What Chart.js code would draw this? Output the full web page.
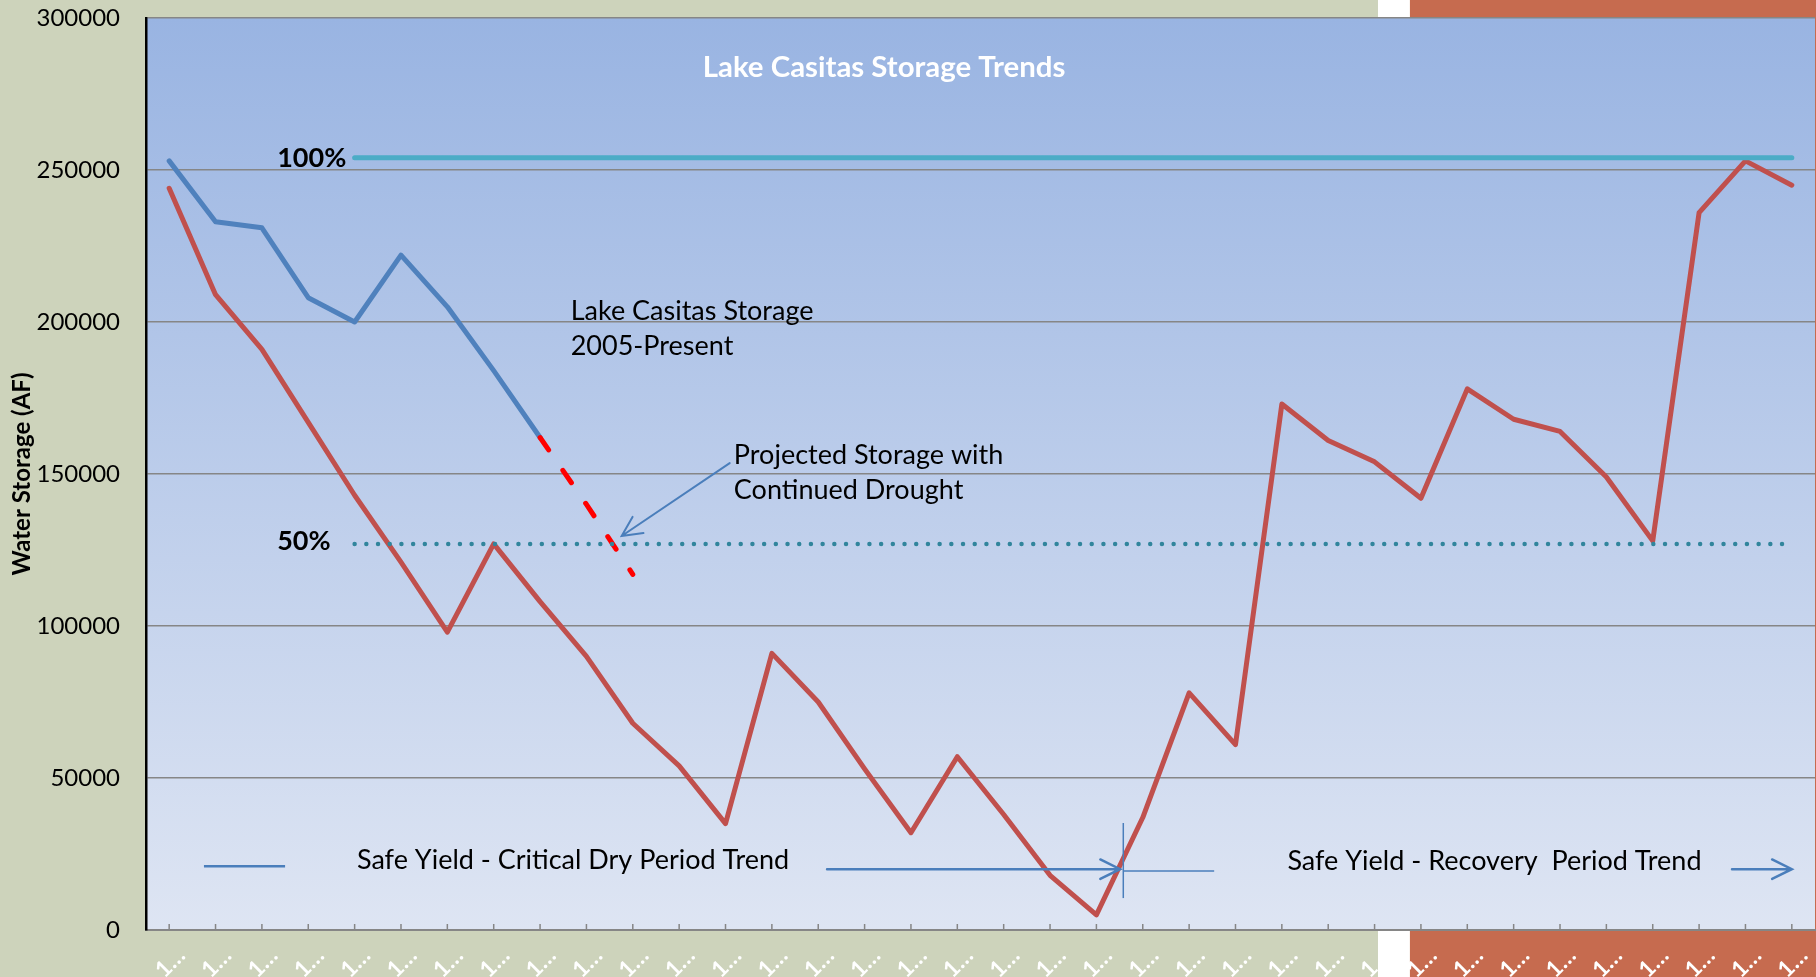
<!DOCTYPE html>
<html>
<head>
<meta charset="utf-8">
<script src="https://cdn.jsdelivr.net/npm/chart.js@4.4.0/dist/chart.umd.min.js"></script>
<style>
  html, body { margin: 0; padding: 0; background: #cdd3bb; }
  canvas { display: block; }
</style>
</head>
<body>
<canvas id="storage" width="1816" height="977"></canvas>
<script>
// category labels as shown (truncated by the original chart)
const categories = ['1…','1…','1…','1…','1…','1…','1…','1…','1…','1…','1…','1…',
                    '1…','1…','1…','1…','1…','1…','1…','1…','1…','1…','1…','1…',
                    '1…','1…','1…','1…','1…','1…','1…','1…','1…','1…','1…','1…'];

// historic storage, critical dry period + recovery (AF)
const historicStorage = [244000, 209000, 191000, 167000, 143000, 121000, 98000, 127000, 108000,
                         90000, 68000, 54000, 35000, 91000, 75000, 53000, 32000, 57000,
                         38000, 18000, 5000, 37000, 78000, 61000, 173000, 161000, 154000,
                         142000, 178000, 168000, 164000, 149000, 128000, 236000, 253000, 245000];

// Lake Casitas storage 2005-present
const storage2005 = [253000, 233000, 231000, 208000, 200000, 222000, 205000, 184000, 162000];

// projected storage with continued drought
const projected = [null, null, null, null, null, null, null, null, 162000, 140000, 117000];

// capacity reference lines
const full100 = [null, null, null, null, 254000, 254000, 254000, 254000, 254000, 254000, 254000, 254000,
                 254000, 254000, 254000, 254000, 254000, 254000, 254000, 254000, 254000, 254000, 254000, 254000,
                 254000, 254000, 254000, 254000, 254000, 254000, 254000, 254000, 254000, 254000, 254000, 254000];
const half50 = [null, null, null, null, 127000, 127000, 127000, 127000, 127000, 127000, 127000, 127000,
                127000, 127000, 127000, 127000, 127000, 127000, 127000, 127000, 127000, 127000, 127000, 127000,
                127000, 127000, 127000, 127000, 127000, 127000, 127000, 127000, 127000, 127000, 127000, 127000];

const yTicks = [0, 50000, 100000, 150000, 200000, 250000, 300000];

const FONT = 'Lato, "Open Sans", sans-serif';

function say(ctx, text, x, y, font, color, align, squeeze) {
  ctx.save();
  ctx.font = font;
  ctx.fillStyle = color || '#000';
  ctx.textBaseline = 'middle';
  ctx.textAlign = align || 'left';
  ctx.translate(x, y);
  ctx.scale(squeeze || 1, 1);
  ctx.fillText(text, 0, 0);
  ctx.restore();
}

function arrow(ctx, x1, y1, x2, y2, width) {
  const ang = Math.atan2(y2 - y1, x2 - x1);
  const len = 22, spread = 0.46;
  ctx.save();
  ctx.strokeStyle = '#4a7ebb';
  ctx.lineWidth = width;
  ctx.lineCap = 'round';
  ctx.beginPath();
  ctx.moveTo(x1, y1);
  ctx.lineTo(x2, y2);
  ctx.moveTo(x2 - len * Math.cos(ang - spread), y2 - len * Math.sin(ang - spread));
  ctx.lineTo(x2, y2);
  ctx.lineTo(x2 - len * Math.cos(ang + spread), y2 - len * Math.sin(ang + spread));
  ctx.stroke();
  ctx.restore();
}

function seg(ctx, x1, y1, x2, y2, width) {
  ctx.save();
  ctx.strokeStyle = '#4a7ebb';
  ctx.lineWidth = width;
  ctx.beginPath();
  ctx.moveTo(x1, y1);
  ctx.lineTo(x2, y2);
  ctx.stroke();
  ctx.restore();
}

const backdrop = {
  id: 'backdrop',
  beforeDraw(chart) {
    const { ctx, width, height, chartArea: a } = chart;
    ctx.save();
    ctx.fillStyle = '#cdd3bb';
    ctx.fillRect(0, 0, width, height);
    ctx.fillStyle = '#ffffff';
    ctx.fillRect(width * 0.7588, 0, width * 0.0176, height);
    ctx.fillStyle = '#c66b4f';
    ctx.fillRect(width * 0.7764, 0, width, height);
    const g = ctx.createLinearGradient(0, a.top, 0, a.bottom);
    g.addColorStop(0, '#99b4e2');
    g.addColorStop(1, '#dee5f3');
    ctx.fillStyle = g;
    ctx.fillRect(a.left, a.top, a.right - a.left, a.bottom - a.top);
    ctx.restore();
  }
};

const notes = {
  id: 'notes',
  afterDatasetsDraw(chart) {
    const { ctx, chartArea: a } = chart;
    const x = chart.scales.x, y = chart.scales.y;
    const px = v => x.getPixelForValue(v);
    const py = v => y.getPixelForValue(v);

    // inside tick marks on the category axis
    ctx.save();
    ctx.strokeStyle = '#868686';
    ctx.lineWidth = 1.5;
    ctx.beginPath();
    x.ticks.forEach((t, i) => {
      const tx = x.getPixelForTick(i);
      ctx.moveTo(tx, a.bottom);
      ctx.lineTo(tx, a.bottom - 6);
    });
    ctx.stroke();
    ctx.restore();

    say(ctx, 'Lake Casitas Storage Trends', px(15.42), py(283500), 'bold 28px ' + FONT, '#ffffff', 'center', 1.05);
    say(ctx, '100%', px(2.33), py(254000), 'bold 27px ' + FONT, '#000', 'left');
    say(ctx, '50%', px(2.33), py(128000), 'bold 27px ' + FONT, '#000', 'left');

    say(ctx, 'Lake Casitas Storage', px(8.66), py(203600), '27px ' + FONT);
    say(ctx, '2005-Present', px(8.66), py(192100), '27px ' + FONT);
    say(ctx, 'Projected Storage with', px(12.18), py(156250), '27px ' + FONT);
    say(ctx, 'Continued Drought', px(12.18), py(144700), '27px ' + FONT);
    arrow(ctx, px(12.09), py(153600), px(9.76), py(129600), 2);

    seg(ctx, px(0.75), py(21000), px(2.50), py(21000), 2.5);
    say(ctx, 'Safe Yield - Critical Dry Period Trend', px(4.05), py(23000), '27px ' + FONT);
    arrow(ctx, px(14.19), py(20000), px(20.51), py(20000), 2.5);
    seg(ctx, px(20.58), py(35200), px(20.58), py(10500), 1.5);
    seg(ctx, px(20.58), py(19400), px(22.54), py(19400), 1.5);
    say(ctx, 'Safe Yield - Recovery  Period Trend', px(24.12), py(22700), '27px ' + FONT);
    arrow(ctx, px(33.71), py(20000), px(35.0), py(20000), 2.5);
  }
};

const line = (data, color, width, order, extra) => Object.assign({
  data, borderColor: color, borderWidth: width, order,
  pointRadius: 0, tension: 0, fill: false,
  borderCapStyle: 'round', borderJoinStyle: 'round'
}, extra || {});

new Chart(document.getElementById('storage'), {
  type: 'line',
  data: {
    labels: categories,
    datasets: [
      line(full100, '#4bacc6', 5, 0),
      line(half50, '#31859c', 4.5, 1, { borderDash: [0, 11.7] }),
      line(projected, '#ff0000', 5, 2, { borderDash: [15, 25] }),
      line(storage2005, '#4f81bd', 5, 3),
      line(historicStorage, '#c0504d', 5, 4)
    ]
  },
  options: {
    responsive: false,
    animation: false,
    devicePixelRatio: 1,
    layout: { padding: { top: 18, right: 1, left: 0, bottom: 0 } },
    plugins: { legend: { display: false }, tooltip: { enabled: false } },
    scales: {
      x: {
        offset: true,
        grid: { display: false, drawTicks: true, tickLength: 12 },
        border: { color: '#868686', width: 2 },
        ticks: {
          color: '#ffffff', font: { family: FONT, size: 23, weight: 'bold' },
          minRotation: 45, maxRotation: 45, autoSkip: false, padding: 0, labelOffset: 12
        },
        afterFit: s => { s.height = 47; }
      },
      y: {
        min: 0, max: 300000,
        afterBuildTicks: s => { s.ticks = yTicks.map(v => ({ value: v })); },
        ticks: {
          color: '#000', font: { family: FONT, size: 24 }, padding: 2,
          callback: v => String(v)
        },
        grid: { color: '#868686', lineWidth: 1.5, drawTicks: true, tickLength: 24, tickColor: 'rgba(0,0,0,0)' },
        border: { color: '#000', width: 2.5 },
        title: {
          display: true, text: 'Water Storage (AF)', color: '#000',
          font: { family: FONT, size: 24, weight: 'bold' },
          padding: { top: 8, bottom: 0 }
        },
        afterFit: s => { s.width = 146; }
      }
    }
  },
  plugins: [backdrop, notes]
});
</script>
</body>
</html>
